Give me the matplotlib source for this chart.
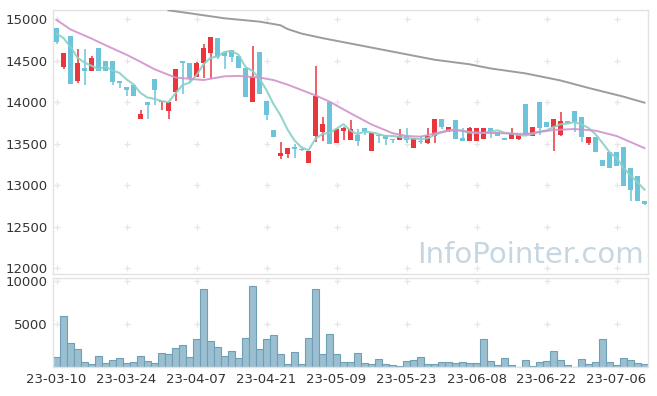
import matplotlib
matplotlib.use("Agg")
import matplotlib.pyplot as plt
from matplotlib.patches import Rectangle

plt.rcParams["font.family"] = "DejaVu Sans"

# daily candles, 23-03-10 .. 23-07-12 (trading days)
opens = [14900, 14430, 14800, 14260, 14410, 14380, 14660, 14500, 14500, 14260,
         14190, 14210, 13805, 14000, 14280, 14000, 13900, 14130, 14500, 14480,
         14310, 14470, 14600, 14780, 14610, 14630, 14560, 14410, 14000, 14610,
         14020, 13670, 13360, 13380, 13460, 13440, 13275, 13590, 13650, 14000,
         13510, 13660, 13550, 13610, 13690, 13410, 13610, 13610, 13560, 13550,
         13600, 13455, 13530, 13510, 13590, 13800, 13670, 13790, 13570, 13540,
         13540, 13565, 13690, 13640, 13570, 13565, 13560, 13980, 13600, 14000,
         13760, 13700, 13610, 13780, 13900, 13820, 13510, 13580, 13310, 13400,
         13400, 13460, 13210, 13110, 12810]
highs = [14900, 14600, 14800, 14640, 14640, 14560, 14660, 14500, 14500, 14260,
         14190, 14220, 13910, 14000, 14280, 14020, 14010, 14400, 14500, 14480,
         14490, 14700, 14790, 14780, 14610, 14630, 14560, 14410, 14680, 14610,
         14020, 13670, 13520, 13450, 13500, 13450, 13415, 14440, 13830, 14000,
         13690, 13700, 13790, 13680, 13690, 13630, 13610, 13610, 13560, 13680,
         13690, 13570, 13600, 13690, 13800, 13800, 13700, 13790, 13690, 13700,
         13690, 13690, 13690, 13640, 13570, 13690, 13610, 13980, 13700, 14000,
         13760, 13800, 13880, 13780, 13900, 13820, 13580, 13580, 13310, 13400,
         13400, 13460, 13210, 13110, 12810]
lows = [14700, 14400, 14220, 14230, 14210, 14380, 14380, 14380, 14210, 14180,
        14080, 14080, 13805, 13805, 13975, 13910, 13800, 14020, 14100, 14230,
        14310, 14300, 14290, 14520, 14400, 14490, 14420, 14060, 14000, 14100,
        13790, 13580, 13320, 13330, 13330, 13420, 13275, 13520, 13530, 13500,
        13510, 13550, 13550, 13470, 13610, 13410, 13510, 13490, 13510, 13550,
        13510, 13455, 13500, 13500, 13510, 13680, 13640, 13560, 13530, 13540,
        13540, 13565, 13570, 13600, 13550, 13560, 13545, 13610, 13600, 13610,
        13710, 13420, 13600, 13755, 13640, 13520, 13490, 13400, 13230, 13215,
        13230, 12990, 12810, 12810, 12770]
closes = [14730, 14590, 14220, 14480, 14380, 14540, 14380, 14380, 14250, 14230,
          14150, 14080, 13860, 13975, 14150, 14020, 14010, 14400, 14470, 14290,
          14480, 14660, 14790, 14550, 14560, 14550, 14420, 14060, 14310, 14100,
          13850, 13580, 13390, 13450, 13440, 13430, 13415, 14080, 13740, 13500,
          13680, 13690, 13680, 13540, 13660, 13630, 13590, 13560, 13545, 13600,
          13550, 13570, 13520, 13600, 13800, 13700, 13700, 13560, 13530, 13690,
          13690, 13690, 13650, 13600, 13550, 13635, 13610, 13610, 13700, 13690,
          13710, 13800, 13780, 13755, 13770, 13580, 13580, 13400, 13230, 13215,
          13230, 12990, 12940, 12810, 12780]
volumes = [1150, 5890, 2770, 2075, 575, 345, 1270, 460, 805, 1040,
           460, 575, 1270, 690, 460, 1615, 1500, 2190, 2540, 1150,
           3230, 9000, 3000, 2310, 1270, 1850, 1040, 3350, 9350, 2075,
           3230, 3700, 1500, 345, 1730, 345, 3350, 9000, 1500, 3810,
           1500, 575, 575, 1615, 460, 345, 920, 345, 230, 115,
           690, 805, 1150, 345, 345, 575, 575, 460, 575, 460,
           460, 3230, 690, 230, 1040, 230, 30, 805, 115, 575,
           690, 1850, 805, 230, 30, 920, 345, 575, 3230, 575,
           230, 1040, 805, 460, 345]

# moving averages
ma5 = [14830, 14775, 14670, 14540, 14480, 14442, 14400, 14432, 14386, 14356,
       14278, 14218, 14114, 14059, 14043, 14017, 14003, 14111, 14210, 14238,
       14330, 14460, 14538, 14554, 14608, 14622, 14574, 14428, 14380, 14288,
       14148, 13980, 13846, 13674, 13542, 13458, 13425, 13563, 13621, 13633,
       13683, 13738, 13658, 13618, 13650, 13640, 13620, 13596, 13597, 13585,
       13569, 13565, 13557, 13568, 13608, 13638, 13664, 13672, 13658, 13636,
       13634, 13632, 13650, 13664, 13636, 13625, 13609, 13601, 13621, 13649,
       13664, 13702, 13736, 13747, 13763, 13737, 13693, 13617, 13512, 13401,
       13331, 13213, 13121, 13037, 12950]
ma20_idx = [0, 2, 5, 7, 10, 12, 14, 17, 19, 21, 24, 26, 29, 31, 33, 37, 39,
            42, 45, 48, 50, 52, 55, 57, 60, 63, 67, 71, 74, 77, 80, 84]
ma20 = [14995, 14880, 14770, 14690, 14575, 14490, 14400, 14300, 14285, 14270,
        14315, 14320, 14300, 14270, 14215, 14085, 14010, 13870, 13735, 13630,
        13596, 13588, 13645, 13668, 13636, 13630, 13620, 13668, 13680, 13660,
        13596, 13450]
ma120_idx = [16, 19, 24, 29, 32, 33, 35, 38, 42, 54, 59, 62, 67, 72, 76, 81, 84]
ma120 = [15110, 15075, 15014, 14974, 14930, 14885, 14830, 14775, 14710, 14515,
         14460, 14410, 14350, 14265, 14175, 14070, 13997]

tick_idx = [0, 10, 20, 30, 40, 50, 60, 70, 80]
tick_labels = ['23-03-10', '23-03-24', '23-04-07', '23-04-21', '23-05-09',
               '23-05-23', '23-06-08', '23-06-22', '23-07-06']
price_ticks = [12000, 12500, 13000, 13500, 14000, 14500, 15000]
vol_ticks = [5000, 10000]

up_c = '#e8363c'
down_c = '#6cc3da'
frame_c = '#e2e2e2'
plus_c = '#e6e6e6'

fig = plt.figure(figsize=(6.57, 3.96), dpi=100)
ax = fig.add_axes([53/657, 1-274/396, 595/657, 264/396])
axv = fig.add_axes([53/657, 1-367.3/396, 595/657, 89.3/396])

n = len(closes)
for i in range(n):
    o, h, l, c = opens[i], highs[i], lows[i], closes[i]
    col = up_c if c >= o else down_c
    ax.plot([i, i], [l, h], color=col, lw=1.1, zorder=2, solid_capstyle='butt')
    lo, hi = min(o, c), max(o, c)
    ax.add_patch(Rectangle((i - 0.36, lo), 0.72, max(hi - lo, 12),
                           facecolor=col, edgecolor='none', zorder=3))

ax.plot(range(n), ma5, color='#8bd0c6', lw=1.5, alpha=0.9, zorder=4)
ax.plot(ma20_idx, ma20, color='#d292cb', lw=1.4, alpha=0.9, zorder=4)
ax.plot(ma120_idx, ma120, color='#9c9c9c', lw=1.4, zorder=4)

ax.set_xlim(-0.5, n - 0.5)
ax.set_ylim(11933, 15114)
ax.set_yticks(price_ticks)
ax.set_xticks([])
for y in price_ticks:
    ax.plot(tick_idx, [y]*len(tick_idx), '+', color=plus_c, ms=5, mew=0.9, zorder=1)

ax.text(0.807, 0.356, 'InfoPointer.com', transform=fig.transFigure, ha='center',
        va='center', fontsize=21, color='#c6d7e2', zorder=0)

axv.bar(range(n), volumes, width=1.0, color='#9bbfd0', edgecolor='#6f9fb5',
        linewidth=0.8, zorder=2)
axv.set_xlim(-0.5, n - 0.5)
axv.set_ylim(0, 10314)
axv.set_yticks(vol_ticks)
axv.set_xticks(tick_idx)
axv.set_xticklabels(tick_labels)
for y in vol_ticks:
    axv.plot(tick_idx, [y]*len(tick_idx), '+', color=plus_c, ms=5, mew=0.9, zorder=1)

for a in (ax, axv):
    for s in a.spines.values():
        s.set_color(frame_c)
        s.set_linewidth(1)
    a.tick_params(length=0, labelsize=9.5, labelcolor='#333333', pad=4)

fig.savefig('out.png', dpi=100)
